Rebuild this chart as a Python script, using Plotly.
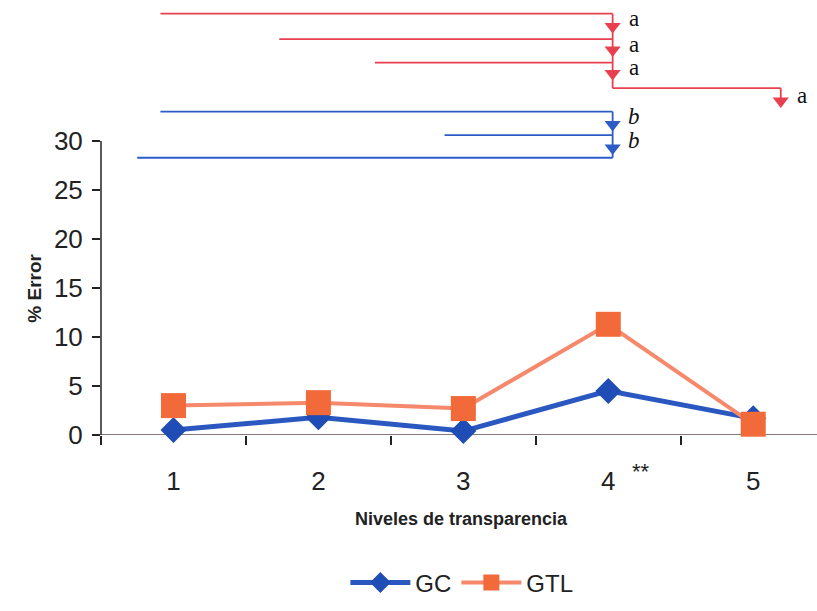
import plotly.graph_objects as go

# Transparency levels and % error per group
niveles = [1, 2, 3, 4, 5]
tick_labels = ["1", "2", "3", "4", "5"]
gc = [0.5, 1.8, 0.4, 4.5, 1.7]
gtl = [3.0, 3.3, 2.7, 11.3, 1.1]

# Significance brackets: (x start, x end, level, arrow tip level, letter)
red_brackets = [
    (0.91, 4.03, 43.0, 41.0, "a"),
    (1.73, 4.03, 40.4, 38.6, "a"),
    (2.39, 4.03, 38.0, 36.2, "a"),
]
red_tail = (4.03, 5.19, 35.4, 33.4, "a")
blue_brackets = [
    (0.91, 4.03, 33.0, 31.0, "b"),
    (2.87, 4.03, 30.6, 28.6, "b"),
]
blue_base = (0.75, 4.03, 28.3)

RED = "#e8404f"
BLUE = "#2d5cc6"

fig = go.Figure()
fig.add_trace(go.Scatter(
    x=niveles, y=gc, name="GC", mode="lines+markers",
    line=dict(color="#2b58c0", width=5),
    marker=dict(symbol="diamond", size=20, color="#1f4db5"),
    cliponaxis=False,
))
fig.add_trace(go.Scatter(
    x=niveles, y=gtl, name="GTL", mode="lines+markers",
    line=dict(color="#f6886c", width=4),
    marker=dict(symbol="square", size=25, color="#f26a3a"),
    cliponaxis=False,
))

shapes = []
annotations = []
LW = 1.8

def seg(x0, x1, y0, y1, color):
    shapes.append(dict(type="line", xref="x", yref="y", x0=x0, x1=x1, y0=y0, y1=y1,
                       line=dict(color=color, width=LW)))

def letter(x, y, txt, italic=False, shift=21, yshift=-5):
    annotations.append(dict(x=x, y=y, xref="x", yref="y", text=txt, showarrow=False,
                            xshift=shift, yshift=yshift,
                            font=dict(family="Liberation Serif", size=23, color="#111",
                                      style="italic" if italic else "normal")))

def heads(xs, tips, color):
    # downward triangles sitting just above each arrow tip
    fig.add_trace(go.Scatter(
        x=xs, y=[t + 0.7 for t in tips], mode="markers", showlegend=False,
        hoverinfo="skip", cliponaxis=False,
        marker=dict(symbol="triangle-down", size=14, color=color, line=dict(width=0)),
    ))

# red brackets
for x0, x1, lvl, tip, t in red_brackets:
    seg(x0, x1, lvl, lvl, RED)
    letter(x1, lvl, t)
seg(red_tail[0], red_tail[0], red_brackets[0][2], red_tail[2], RED)
seg(red_tail[0], red_tail[1], red_tail[2], red_tail[2], RED)
seg(red_tail[1], red_tail[1], red_tail[2], red_tail[3] + 0.8, RED)
letter(red_tail[1], red_tail[2], red_tail[4], shift=21, yshift=-7)
heads([b[1] for b in red_brackets] + [red_tail[1]],
      [b[3] for b in red_brackets] + [red_tail[3]], RED)

# blue brackets
for x0, x1, lvl, tip, t in blue_brackets:
    seg(x0, x1, lvl, lvl, BLUE)
    letter(x1, lvl, t, italic=True)
seg(blue_base[0], blue_base[1], blue_base[2], blue_base[2], BLUE)
seg(blue_base[1], blue_base[1], blue_brackets[0][2], blue_base[2], BLUE)
heads([b[1] for b in blue_brackets], [b[3] for b in blue_brackets], BLUE)

# y axis line limited to the 0-30 range
shapes.append(dict(type="line", xref="paper", yref="y", x0=0, x1=0, y0=-0.9, y1=30,
                   line=dict(color="#222", width=1.5)))
# x axis line
shapes.append(dict(type="line", xref="paper", yref="y", x0=0, x1=1, y0=0, y1=0,
                   line=dict(color="#5a4a4a", width=1.5), layer="below"))

# significance mark on level 4
annotations.append(dict(x=4, y=0, xref="x", yref="y", text="**", showarrow=False,
                        xshift=33, yshift=-36,
                        font=dict(family="Liberation Sans", size=22, color="#222")))
# axis titles
annotations.append(dict(x=0.504, y=-0.2, xref="paper", yref="paper", yshift=-9,
                        text="<b>Niveles de transparencia</b>", showarrow=False,
                        font=dict(family="Liberation Sans", size=18, color="#222")))
annotations.append(dict(x=-0.092, y=15, xref="paper", yref="y", text="<b>% Error</b>",
                        textangle=-90, showarrow=False, xshift=-14,
                        font=dict(family="Liberation Sans", size=19, color="#222")))

fig.update_layout(
    width=817, height=611,
    margin=dict(l=101, r=0, t=0, b=176),
    paper_bgcolor="white", plot_bgcolor="white",
    shapes=shapes, annotations=annotations,
    showlegend=True,
    legend=dict(orientation="h", x=0.504, xanchor="center", y=-0.34, yanchor="middle",
                font=dict(family="Liberation Sans", size=24, color="#222"),
                itemwidth=60, tracegroupgap=0),
    xaxis=dict(range=[0.5, 5.44], tickvals=niveles, ticktext=tick_labels,
               ticks="", showgrid=False, zeroline=False, showline=False,
               tickfont=dict(family="Liberation Sans", size=26, color="#222"),
               ticklabelstandoff=28,
               minor=dict(tickvals=[0.5, 1.5, 2.5, 3.5, 4.5], ticks="outside",
                          ticklen=9, tickwidth=1.5, tickcolor="#222", showgrid=False)),
    yaxis=dict(range=[0, 44.4], tickvals=[0, 5, 10, 15, 20, 25, 30],
               ticks="outside", ticklen=8, tickwidth=1.5, tickcolor="#222",
               showgrid=False, zeroline=False, showline=False,
               tickfont=dict(family="Liberation Sans", size=26, color="#222"),
               ticklabelstandoff=4),
)

fig.write_html("out.html")
